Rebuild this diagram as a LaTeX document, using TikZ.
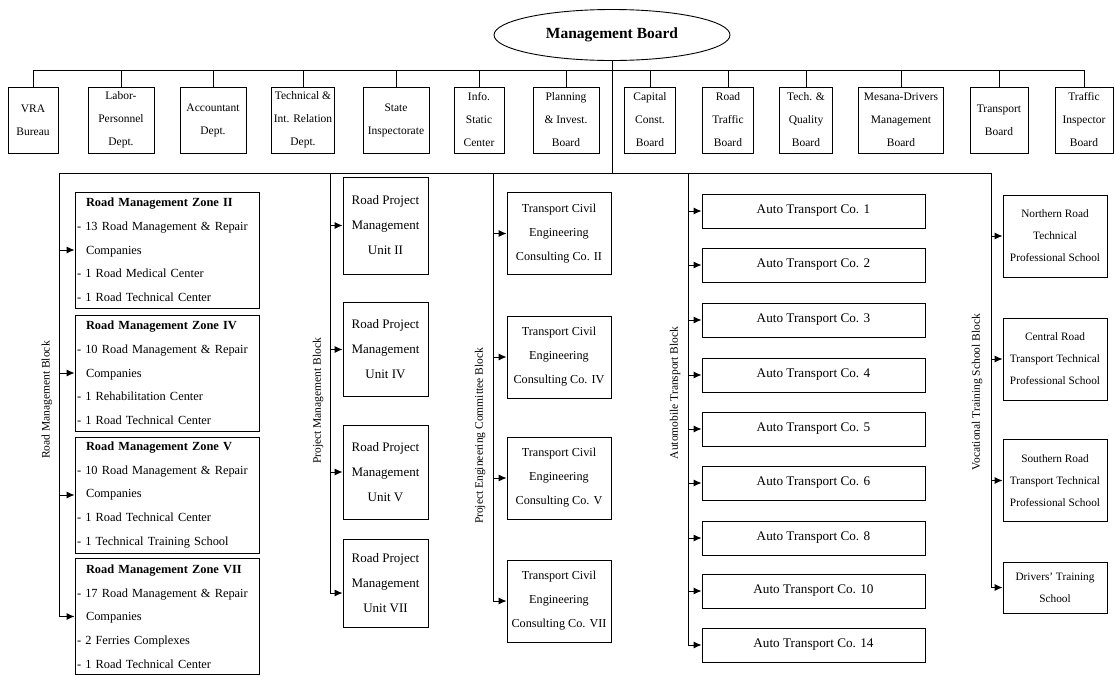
\documentclass[tikz,border=0pt]{standalone}
\usepackage{fontspec}
\setmainfont{Liberation Serif}
\usetikzlibrary{arrows.meta,shapes.geometric}
\newcommand{\ind}{\hspace*{9pt}}

\begin{document}
\begin{tikzpicture}[x=1pt,y=-1pt,line width=0.9pt,>={Latex[length=8pt,width=7pt]},
    board/.style={draw,ellipse,minimum width=236pt,minimum height=51pt,inner sep=0pt,font=\fontsize{15.5}{18}\selectfont\bfseries},
    dept/.style={draw,minimum height=66pt,inner sep=0pt,align=center,font=\fontsize{11.5}{23}\selectfont},
    zone/.style={draw,text width=180pt,inner xsep=2pt,inner ysep=0pt,minimum height=116pt,align=left,font=\fontsize{12.4}{23.7}\selectfont},
    unit/.style={draw,minimum width=85pt,minimum height=94pt,inner sep=0pt,align=center,font=\fontsize{13}{25}\selectfont},
    firm/.style={draw,minimum width=104pt,minimum height=82pt,inner sep=0pt,align=center,font=\fontsize{12.2}{24}\selectfont},
    fleet/.style={draw,minimum width=223pt,minimum height=34pt,inner sep=0pt,font=\fontsize{13.2}{16}\selectfont},
    school/.style={draw,minimum width=104pt,minimum height=82pt,inner sep=0pt,align=center,font=\fontsize{11.3}{22}\selectfont},
    blocklabel/.style={rotate=90,inner sep=0pt,font=\fontsize{11.5}{14}\selectfont}]
  \useasboundingbox (0,0) rectangle (1115,675);

  \node[board] (mb) at (612,35) {Management Board};

  \node[dept,minimum width=50pt] (vra) at (33,120) {VRA\\Bureau};
  \node[dept,minimum width=66pt] (labor) at (121,120) {Labor-\\Personnel\\Dept.};
  \node[dept,minimum width=66pt] (acct) at (213,120) {Accountant\\Dept.};
  \node[dept,minimum width=63pt] (tech) at (303,120) {Technical \&\\Int. Relation\\Dept.};
  \node[dept,minimum width=66pt] (state) at (396,120) {State\\Inspectorate};
  \node[dept,minimum width=50pt] (info) at (479,120) {Info.\\Static\\Center};
  \node[dept,minimum width=66pt] (plan) at (566,120) {Planning\\\& Invest.\\Board};
  \node[dept,minimum width=51pt] (capital) at (650,120) {Capital\\Const.\\Board};
  \node[dept,minimum width=51pt] (roadtr) at (728,120) {Road\\Traffic\\Board};
  \node[dept,minimum width=53pt] (quality) at (806,120) {Tech. \&\\Quality\\Board};
  \node[dept,minimum width=85pt] (mesana) at (901,120) {Mesana-Drivers\\Management\\Board};
  \node[dept,minimum width=58pt] (transp) at (999,120) {Transport\\Board};
  \node[dept,minimum width=58pt] (inspect) at (1084,120) {Traffic\\Inspector\\Board};

  \coordinate (bus) at (612,70);
  \coordinate (blk) at (612,173);
  \coordinate (rmb) at (59,173);
  \coordinate (pmb) at (330,173);
  \coordinate (peb) at (493,173);
  \coordinate (atb) at (688,173);
  \coordinate (vtb) at (991,173);

  \draw (mb.south) -- (blk);
  \draw (vra.north |- bus) -- (inspect.north |- bus);
  \foreach \d in {vra,labor,acct,tech,state,info,plan,capital,roadtr,quality,mesana,transp,inspect}
    \draw (\d.north) -- (\d.north |- bus);
  \draw (rmb) -- (vtb);

  \node[zone] (z2) at (167,250) {\ind\textbf{Road Management Zone II}\\- 13 Road Management \& Repair\\\ind Companies\\- 1 Road Medical Center\\- 1 Road Technical Center};
  \node[zone] (z4) at (167,373) {\ind\textbf{Road Management Zone IV}\\- 10 Road Management \& Repair\\\ind Companies\\- 1 Rehabilitation Center\\- 1 Road Technical Center};
  \node[zone] (z5) at (167,495) {\ind\textbf{Road Management Zone V}\\- 10 Road Management \& Repair\\\ind Companies\\- 1 Road Technical Center\\- 1 Technical Training School};
  \node[zone] (z7) at (167,616.5) {\ind\textbf{Road Management Zone VII}\\- 17 Road Management \& Repair\\\ind Companies\\- 2 Ferries Complexes\\- 1 Road Technical Center};
  \node[blocklabel] at (47,400) {Road Management Block};
  \draw[->] (rmb) |- (z7.west);
  \foreach \n in {z2,z4,z5}
    \draw[->] (\n.west -| rmb) -- (\n.west);

  \node[unit,minimum height=97pt] (u2) at (385.5,225.5) {Road Project\\Management\\Unit II};
  \node[unit] (u4) at (385.5,349.5) {Road Project\\Management\\Unit IV};
  \node[unit] (u5) at (385.5,472) {Road Project\\Management\\Unit V};
  \node[unit,minimum height=88pt] (u7) at (385.5,583) {Road Project\\Management\\Unit VII};
  \node[blocklabel] at (318,401) {Project Management Block};
  \draw[->] (pmb) |- ([yshift=-10pt]u7.west);
  \foreach \n in {u2,u4,u5}
    \draw[->] (\n.west -| pmb) -- (\n.west);

  \node[firm] (c2) at (559,233.5) {Transport Civil\\Engineering\\Consulting Co. II};
  \node[firm] (c4) at (559,357) {Transport Civil\\Engineering\\Consulting Co. IV};
  \node[firm] (c5) at (559,478) {Transport Civil\\Engineering\\Consulting Co. V};
  \node[firm] (c7) at (559,601) {Transport Civil\\Engineering\\Consulting Co. VII};
  \node[blocklabel] at (480,436) {Project Engineering Committee Block};
  \draw[->] (peb) |- (c7.west);
  \foreach \n in {c2,c4,c5}
    \draw[->] (\n.west -| peb) -- (\n.west);

  \foreach \k/\y [count=\i] in {1/211,2/265,3/320,4/375,5/429,6/483,8/538,10/591,14/645}
    \node[fleet] (at\i) at (813.5,\y) {Auto Transport Co. \k};
  \node[blocklabel] at (675,393) {Automobile Transport Block};
  \draw[->] (atb) |- (at9.west);
  \foreach \i in {1,...,8}
    \draw[->] (at\i.west -| atb) -- (at\i.west);

  \node[school] (s1) at (1055,236) {Northern Road\\Technical\\Professional School};
  \node[school] (s2) at (1055,359) {Central Road\\Transport Technical\\Professional School};
  \node[school] (s3) at (1055,480.5) {Southern Road\\Transport Technical\\Professional School};
  \node[school,minimum height=51pt] (s4) at (1055,587.5) {Drivers' Training\\School};
  \node[blocklabel] at (977,392) {Vocational Training School Block};
  \draw[->] (vtb) |- (s4.west);
  \foreach \n in {s1,s2,s3}
    \draw[->] (\n.west -| vtb) -- (\n.west);
\end{tikzpicture}
\end{document}
